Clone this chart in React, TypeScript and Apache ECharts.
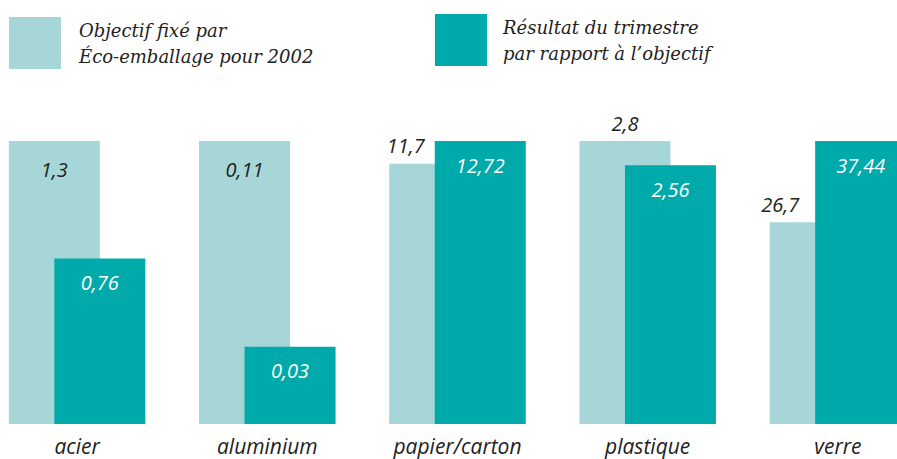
import React, { useEffect, useRef } from "react";
import * as echarts from "echarts";

const categories = ["acier", "aluminium", "papier/carton", "plastique", "verre"];
const objectif = [1.3, 0.11, 11.7, 2.8, 26.7];
const resultat = [0.76, 0.03, 12.72, 2.56, 37.44];
const seriesNames = [
  "Objectif fixé par\nÉco-emballage pour 2002",
  "Résultat du trimestre\npar rapport à l’objectif",
];

const FONT = "'Open Sans', sans-serif";
const LEGEND_FONT = "'DejaVu Serif', serif";
const TEXT = "#222222";
const LIGHT = "#a6d6d8";
const DARK = "#00a9aa";
const SHIFT = 18; // chart canvas extends beyond the left edge of the page

const fmt = (v: number) => String(v).replace(".", ",");

export default function App() {
  const ref = useRef<HTMLDivElement>(null);
  useEffect(() => {
    if (!ref.current) return;
    const chart = echarts.init(ref.current, undefined, { renderer: "svg" });
    const maxes = objectif.map((o, i) => Math.max(o, resultat[i]));
    const objInside = [true, true, false, false, false];
    const objOffsetX = [0, 0, -29, 0, -35];
    const labelBase = {
      fontFamily: FONT,
      fontStyle: "italic" as const,
      fontSize: 20,
    };
    const legendText = (pad: number) => ({
      fontFamily: LEGEND_FONT,
      fontStyle: "italic" as const,
      fontSize: 18,
      color: TEXT,
      lineHeight: 26,
      padding: [0, 0, 0, pad],
    });
    chart.setOption({
      animation: false,
      grid: { left: 0, right: 0, top: 141, bottom: 35 },
      legend: [
        {
          data: [seriesNames[0]],
          left: 9 + SHIFT,
          top: 17,
          padding: 0,
          icon: "rect",
          itemWidth: 52,
          itemHeight: 52,
          selectedMode: false,
          textStyle: legendText(13),
        },
        {
          data: [seriesNames[1]],
          left: 435 + SHIFT,
          top: 14,
          padding: 0,
          icon: "rect",
          itemWidth: 52,
          itemHeight: 52,
          selectedMode: false,
          textStyle: legendText(11),
        },
      ],
      xAxis: {
        type: "category",
        data: categories,
        axisLine: { show: false },
        axisTick: { show: false },
        axisLabel: {
          fontFamily: FONT,
          fontStyle: "italic",
          fontSize: 21,
          lineHeight: 21,
          color: TEXT,
          margin: 11,
        },
      },
      yAxis: { type: "value", min: 0, max: 1, show: false },
      series: [
        {
          name: seriesNames[0],
          type: "bar",
          barWidth: 91,
          barGap: "-50%",
          itemStyle: { color: LIGHT },
          data: objectif.map((v, i) => ({
            value: v / maxes[i],
            label: {
              show: true,
              ...labelBase,
              color: TEXT,
              position: objInside[i] ? "insideTop" : "top",
              distance: objInside[i] ? 18 : 8,
              offset: [objOffsetX[i], 0],
              formatter: () => fmt(v),
            },
          })),
        },
        {
          name: seriesNames[1],
          type: "bar",
          barWidth: 91,
          barGap: "-50%",
          itemStyle: { color: DARK },
          data: resultat.map((v, i) => ({
            value: v / maxes[i],
            label: {
              show: true,
              ...labelBase,
              color: "#ffffff",
              position: "insideTop",
              distance: 14,
              formatter: () => fmt(v),
            },
          })),
        },
      ],
    });
    return () => chart.dispose();
  }, []);
  return (
    <div
      style={{
        position: "absolute",
        left: 0,
        top: 0,
        width: 897,
        height: 459,
        overflow: "hidden",
      }}
    >
      <div
        ref={ref}
        style={{ position: "absolute", left: -SHIFT, top: 0, width: 951, height: 459 }}
      />
    </div>
  );
}
